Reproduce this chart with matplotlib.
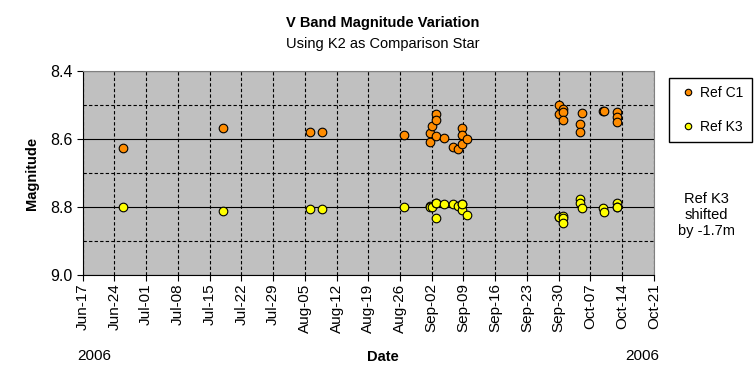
import matplotlib
matplotlib.use('Agg')
import matplotlib.pyplot as plt
import matplotlib.dates as mdates
from matplotlib.ticker import MultipleLocator, FormatStrFormatter
import pandas as pd

plt.rcParams['font.family'] = ['Liberation Sans', 'DejaVu Sans']

# observation times (2006)
dates = ['2006-06-25 19:00', '2006-07-17 22:00', '2006-08-06 02:00', '2006-08-08 19:00',
         '2006-08-26 22:00', '2006-09-01 17:00', '2006-09-01 17:00', '2006-09-02 00:00',
         '2006-09-02 22:00', '2006-09-02 22:00', '2006-09-02 22:00', '2006-09-04 19:00',
         '2006-09-06 17:00', '2006-09-07 17:00', '2006-09-08 19:00', '2006-09-08 19:00',
         '2006-09-08 19:00', '2006-09-09 17:00', '2006-09-30 00:00', '2006-09-30 00:00',
         '2006-09-30 22:00', '2006-09-30 22:00', '2006-09-30 22:00', '2006-10-04 19:00',
         '2006-10-04 19:00', '2006-10-05 02:00', '2006-10-09 17:00', '2006-10-10 00:00',
         '2006-10-12 19:00', '2006-10-12 19:00', '2006-10-12 19:00']

ref_c1 = [8.626, 8.567, 8.579, 8.579, 8.587, 8.581, 8.608, 8.561,
          8.525, 8.543, 8.591, 8.596, 8.623, 8.628, 8.569, 8.587,
          8.616, 8.599, 8.500, 8.525, 8.513, 8.520, 8.543, 8.557,
          8.578, 8.523, 8.517, 8.517, 8.520, 8.536, 8.549]

# Ref K3 shifted by -1.7m
ref_k3 = [8.799, 8.811, 8.805, 8.805, 8.799, 8.796, 8.799, 8.799,
          8.787, 8.831, 8.787, 8.790, 8.790, 8.796, 8.792, 8.810,
          8.792, 8.824, 8.828, 8.828, 8.826, 8.833, 8.847, 8.777,
          8.787, 8.802, 8.802, 8.815, 8.789, 8.799, 8.799]

x = pd.to_datetime(dates)

fig = plt.figure(figsize=(7.55, 3.86), dpi=100)
ax = fig.add_axes([0.1095, 0.2876, 0.7565, 0.5284])
ax.set_facecolor('#C0C0C0')

ax.plot(x, ref_c1, 'o', color='#FF8C00', mec='black', mew=0.8, ms=6.2, label='Ref C1', zorder=3)
ax.plot(x, ref_k3, 'o', color='#FFFF00', mec='black', mew=0.8, ms=6.2, label='Ref K3', zorder=3)

ax.set_xlim(pd.Timestamp('2006-06-17'), pd.Timestamp('2006-10-21'))
ax.set_ylim(9.0, 8.4)
ax.yaxis.set_major_locator(MultipleLocator(0.2))
ax.yaxis.set_minor_locator(MultipleLocator(0.1))
ax.yaxis.set_major_formatter(FormatStrFormatter('%.1f'))
ax.set_xticks(pd.date_range('2006-06-17', '2006-10-21', freq='7D'))
ax.xaxis.set_major_formatter(mdates.DateFormatter('%b-%d'))
plt.setp(ax.get_xticklabels(), rotation=90, fontsize=11)
plt.setp(ax.get_yticklabels(), fontsize=11.5)

ax.grid(True, which='major', axis='y', color='black', lw=0.8, ls='-')
ax.grid(True, which='minor', axis='y', color='black', lw=0.8, ls=(0, (3, 2)))
ax.grid(True, which='major', axis='x', color='black', lw=0.8, ls=(0, (3, 2)))
ax.tick_params(axis='y', which='minor', length=0)
ax.tick_params(axis='y', which='major', length=4, direction='out', pad=3)
ax.tick_params(axis='x', length=4, direction='out', pad=2)
ax.set_axisbelow(True)
for s in ['top', 'right']:
    ax.spines[s].set_color('#808080')
for s in ['left', 'bottom']:
    ax.spines[s].set_color('black')

ax.set_ylabel('Magnitude', fontsize=10.5, fontweight='bold', labelpad=8)
fig.text(0.507, 0.075, 'Date', ha='center', va='center', fontsize=10.5, fontweight='bold')
fig.text(0.102, 0.078, '2006', ha='left', va='center', fontsize=11)
fig.text(0.828, 0.078, '2006', ha='left', va='center', fontsize=11)

fig.text(0.507, 0.94, 'V Band Magnitude Variation', ha='center', va='center',
         fontsize=10.5, fontweight='bold')
fig.text(0.507, 0.885, 'Using K2 as Comparison Star', ha='center', va='center', fontsize=10.5)

ax.legend(loc='center', bbox_to_anchor=(669 / 755, 1 - 148 / 386, 83 / 755, 76 / 386),
          bbox_transform=fig.transFigure, mode='expand',
          fontsize=10, frameon=True, fancybox=False, edgecolor='black', framealpha=1,
          handletextpad=0.1, handlelength=1.5, labelspacing=1.45, borderpad=0.6,
          markerscale=0.75, borderaxespad=0)

fig.text(706 / 755, 1 - 215 / 386, 'Ref K3\nshifted\nby -1.7m', ha='center', va='center',
         fontsize=10.5, linespacing=1.15)

fig.savefig('out.png', dpi=100)
